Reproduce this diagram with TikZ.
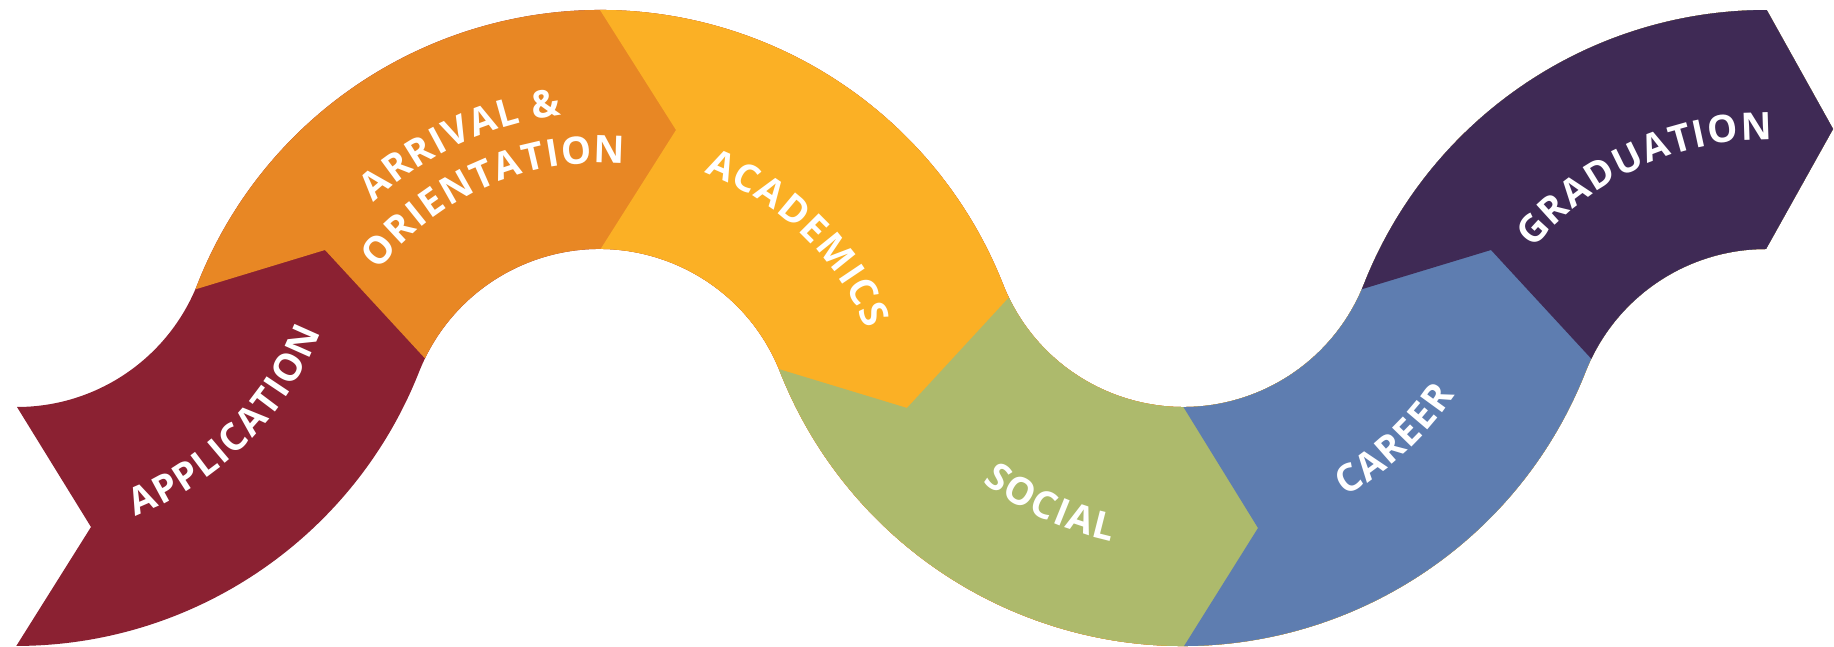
\documentclass[tikz,border=0pt]{standalone}
\usepackage{fontspec}
\newfontfamily\latob{Open Sans}
\usetikzlibrary{calc}
\definecolor{appc}{RGB}{139,33,50}
\definecolor{arrc}{RGB}{232,135,36}
\definecolor{acac}{RGB}{251,176,37}
\definecolor{socc}{RGB}{173,186,108}
\definecolor{carc}{RGB}{94,125,176}
\definecolor{grac}{RGB}{63,42,85}
\newcommand\stagefont{\latob\bfseries\fontsize{38}{46}\selectfont}
\newcommand\trackamt{1.5pt}
\newdimen\stgW \newdimen\stgPos
\tikzset{stageletter/.style={anchor=base, inner sep=0pt, outer sep=0pt, text=white, font=\stagefont}}
% measure letters outside the picture: #1 key, #2 letters
\newcommand\measureletters[2]{%
  \global\stgW=0pt
  \foreach \ch [count=\n] in {#2}{%
    \setbox0\hbox{\stagefont\ch}%
    \expandafter\xdef\csname stgw#1@\n\endcsname{\the\wd0}%
    \global\advance\stgW by \wd0
    \global\advance\stgW by \trackamt
  }%
  \global\advance\stgW by -\trackamt
  \expandafter\xdef\csname stgtot#1\endcsname{\the\stgW}%
}
% #1 key, #2 centre "x,y", #3 baseline radius, #4 centre angle, #5 +1 ccw / -1 cw, #6 letters
\newcommand\arctext[6]{%
  \global\stgPos=0pt
  \foreach \ch [count=\n] in {#6}{%
    \edef\chwid{\csname stgw#1@\n\endcsname}%
    \edef\totwid{\csname stgtot#1\endcsname}%
    \pgfmathsetmacro\midp{\the\stgPos+0.5*\chwid-0.5*\totwid}%
    \pgfmathsetmacro\letang{#4+#5*\midp/#3*57.29578}%
    \node[stageletter, rotate=\letang+#5*90] at ($(#2)+(\letang:#3)$) {\ch};%
    \global\advance\stgPos by \chwid\relax
    \global\advance\stgPos by \trackamt\relax
  }%
}
\begin{document}
\measureletters{app}{A,P,P,L,I,C,A,T,I,O,N}%
\measureletters{arr}{A,R,R,I,V,A,L,~,\&}%
\measureletters{ori}{O,R,I,E,N,T,A,T,I,O,N}%
\measureletters{aca}{A,C,A,D,E,M,I,C,S}%
\measureletters{soc}{S,O,C,I,A,L}%
\measureletters{car}{C,A,R,E,E,R}%
\measureletters{gra}{G,R,A,D,U,A,T,I,O,N}%
\begin{tikzpicture}[x=1pt,y=1pt]
\useasboundingbox (0,0) rectangle (1834,647);
\begin{scope}
\clip (17,240) arc[start angle=270,end angle=338.473,radius=194]
 arc[start angle=158.473,end angle=21.527,radius=433]
 arc[start angle=201.527,end angle=338.473,radius=194]
 arc[start angle=158.473,end angle=90,radius=433]
 -- (1833,518) -- (1766,398)
 arc[start angle=90,end angle=158.473,radius=194]
 arc[start angle=338.473,end angle=201.527,radius=433]
 arc[start angle=21.527,end angle=158.473,radius=194]
 arc[start angle=338.473,end angle=270,radius=433]
 -- (91,120) -- cycle;
\fill[appc] (-20,-80) rectangle (1900,720);
\fill[arrc] (-12.5,294.5) -- (325,397) -- (610,88) -- (610,-80) -- (1900,-80) -- (1900,720) -- (-12.5,720) -- cycle;
\fill[acac] (554.4,709) -- (676,517) -- (554.4,325) -- (554.4,-80) -- (1900,-80) -- (1900,720) -- (554.4,720) -- cycle;
\fill[socc] (569.5,341.5) -- (907,239) -- (1097,445) -- (1097,720) -- (1900,720) -- (1900,-80) -- (569.5,-80) -- cycle;
\fill[carc] (1139.6,720) -- (1139.6,311) -- (1258,119) -- (1139.6,-70) -- (1139.6,-80) -- (1900,-80) -- (1900,720) -- cycle;
\fill[grac] (1153.5,294.5) -- (1491,397) -- (1776,88) -- (1776,-80) -- (1900,-80) -- (1900,720) -- (1153.5,720) -- cycle;
\end{scope}
\arctext{app}{17,434}{326}{315}{1}{A,P,P,L,I,C,A,T,I,O,N}
\arctext{arr}{600,204}{330}{115}{-1}{A,R,R,I,V,A,L,~,\&}
\arctext{ori}{600,204}{280}{113.5}{-1}{O,R,I,E,N,T,A,T,I,O,N}
\arctext{aca}{600,204}{290}{46}{-1}{A,C,A,D,E,M,I,C,S}
\arctext{soc}{1183,434}{336}{245.5}{1}{S,O,C,I,A,L}
\arctext{car}{1183,434}{327}{313}{1}{C,A,R,E,E,R}
\arctext{gra}{1766,204}{303}{114.5}{-1}{G,R,A,D,U,A,T,I,O,N}
\end{tikzpicture}
\end{document}
